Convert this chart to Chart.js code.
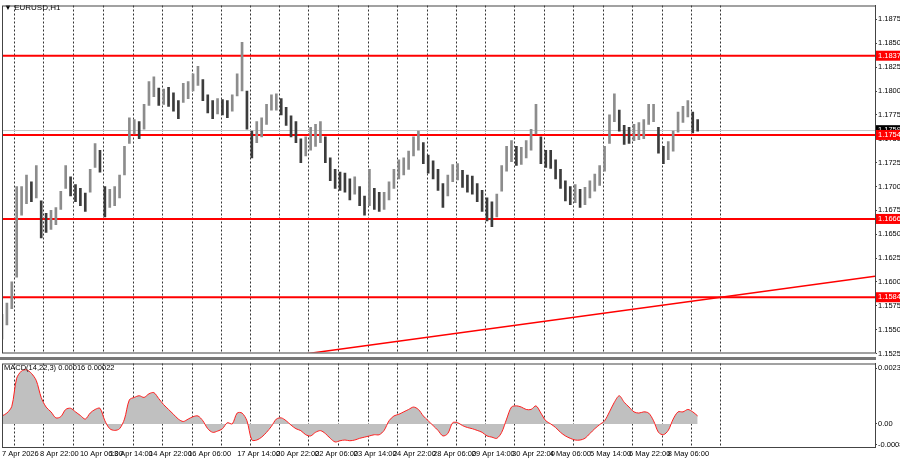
<!DOCTYPE html>
<html><head><meta charset="utf-8">
<script src="https://cdn.jsdelivr.net/npm/chart.js@4/dist/chart.umd.min.js"></script>
<style>
html,body{margin:0;padding:0;background:#fff;}
#w1{position:absolute;left:0;top:0;width:900px;height:358px;}
#w2{position:absolute;left:0;top:358px;width:900px;height:102px;}
#sep{position:absolute;left:0;top:357px;width:876px;height:3px;background:#777;}
</style></head><body>
<div id="w1"><canvas id="c1"></canvas></div>
<div id="sep"></div>
<div id="w2"><canvas id="c2"></canvas></div>
<script>
const highs=[1.1566,1.1578,1.1600,1.1700,1.1700,1.1712,1.1705,1.1722,1.1685,1.1672,1.1675,1.1678,1.1695,1.1722,1.1710,1.1702,1.1698,1.1693,1.1718,1.1745,1.1738,1.1700,1.1697,1.1700,1.1712,1.1742,1.1772,1.1770,1.1768,1.1786,1.1810,1.1815,1.1803,1.1802,1.1804,1.1798,1.1790,1.1808,1.1810,1.1818,1.1826,1.1812,1.1796,1.1790,1.1792,1.1791,1.1790,1.1796,1.1818,1.1851,1.1800,1.1758,1.1768,1.1772,1.1786,1.1796,1.1797,1.1792,1.1783,1.1774,1.1768,1.1750,1.1752,1.1762,1.1765,1.1768,1.1752,1.1730,1.1718,1.1715,1.1714,1.1708,1.1710,1.1700,1.1690,1.1718,1.1698,1.1694,1.1694,1.1705,1.1718,1.1728,1.1730,1.1737,1.1752,1.1758,1.1746,1.1733,1.1727,1.1718,1.1703,1.1712,1.1723,1.1724,1.1717,1.1712,1.1711,1.1703,1.1696,1.1688,1.1684,1.1692,1.1722,1.1742,1.1748,1.1742,1.1741,1.1748,1.1760,1.1786,1.1752,1.1738,1.1738,1.1728,1.1718,1.1706,1.1700,1.1702,1.1697,1.1699,1.1706,1.1713,1.1722,1.1742,1.1775,1.1797,1.1780,1.1764,1.1762,1.1765,1.1767,1.1770,1.1786,1.1786,1.1762,1.1742,1.1747,1.1758,1.1778,1.1784,1.1790,1.1778,1.1770];
const lows=[1.1540,1.1555,1.1572,1.1605,1.1670,1.1682,1.1684,1.1688,1.1646,1.1652,1.1655,1.1660,1.1676,1.1698,1.1690,1.1684,1.1680,1.1674,1.1694,1.1720,1.1715,1.1668,1.1678,1.1680,1.1688,1.1712,1.1745,1.1755,1.1750,1.1760,1.1785,1.1794,1.1785,1.1786,1.1784,1.1779,1.1771,1.1788,1.1792,1.1800,1.1806,1.1790,1.1777,1.1771,1.1776,1.1775,1.1772,1.1779,1.1795,1.1800,1.1760,1.1730,1.1746,1.1752,1.1765,1.1780,1.1780,1.1775,1.1764,1.1752,1.1746,1.1725,1.1732,1.1738,1.1742,1.1746,1.1725,1.1706,1.1698,1.1696,1.1694,1.1686,1.1692,1.1680,1.1670,1.1680,1.1676,1.1674,1.1676,1.1686,1.1698,1.1708,1.1712,1.1718,1.1732,1.1738,1.1724,1.1714,1.1708,1.1696,1.1678,1.1690,1.1705,1.1707,1.1699,1.1694,1.1692,1.1684,1.1674,1.1664,1.1658,1.1668,1.1695,1.1716,1.1726,1.1722,1.1723,1.1730,1.1738,1.1755,1.1724,1.1720,1.1719,1.1708,1.1698,1.1685,1.1681,1.1683,1.1678,1.1681,1.1688,1.1695,1.1701,1.1716,1.1745,1.1768,1.1758,1.1744,1.1745,1.1748,1.1749,1.1750,1.1765,1.1768,1.1735,1.1724,1.1728,1.1737,1.1757,1.1767,1.1773,1.1756,1.1758];
const macd=[0.00033,0.00045,0.00073,0.0019,0.0022,0.00225,0.0021,0.0018,0.0011,0.0007,0.0005,0.00025,0.0003,0.0006,0.00065,0.0005,0.00035,0.0002,0.00045,0.0006,0.00065,0.00013,-0.0002,-0.00027,-0.0002,0.0002,0.001,0.0011,0.00117,0.0011,0.00125,0.0013,0.00105,0.0008,0.0006,0.0004,0.0002,0.0001,0.0002,0.0003,0.00033,0.00013,-0.0002,-0.00035,-0.0003,-0.0002,0.00005,0.0,0.00045,0.00045,0.00013,-0.00067,-0.00067,-0.00055,-0.00035,-0.0001,0.0002,0.00025,0.00013,-0.00005,-0.0002,-0.00028,-0.00045,-0.0005,-0.00035,-0.00028,-0.0004,-0.0006,-0.00075,-0.0007,-0.00067,-0.0007,-0.00067,-0.0006,-0.00055,-0.0005,-0.00045,-0.00045,-0.00027,0.00013,0.00033,0.0004,0.0005,0.0006,0.0007,0.0006,0.00033,0.00013,-0.00007,-0.00027,-0.0005,-0.0004,0.00005,0.00005,-0.00007,-0.00015,-0.0002,-0.00027,-0.00035,-0.0005,-0.00055,-0.0006,-0.00035,0.0002,0.0007,0.00075,0.0007,0.0006,0.0006,0.00075,0.00045,0.00013,0.0,-0.00015,-0.00035,-0.0005,-0.0006,-0.00067,-0.00067,-0.0006,-0.0004,-0.0002,-0.00003,0.00013,0.0005,0.0009,0.00117,0.0009,0.0007,0.0005,0.00045,0.0005,0.00045,0.00013,-0.00035,-0.00045,-0.00027,0.0002,0.0005,0.0005,0.0006,0.0005,0.00033];
const priceTicks=[1.1525,1.1550,1.1575,1.1600,1.1625,1.1650,1.1675,1.1700,1.1725,1.1750,1.1775,1.1800,1.1825,1.1850,1.1875];
const levels=[1.1837,1.1754,1.1666,1.1584];
const currentPrice=1.1759;
const trendStart={x:55.3,y:1.1520}, trendEnd={x:178.2,y:1.1606};
const macdTicks=[0.00231,0,-0.00086];
const macdTickLabels=['0.00231','0.00','-0.00086'];
const timePos=[0,7.76,15.9,22.0,30,38,48,56,63.9,71.8,79.8,88,95.9,104.1,111.8,120,128,135.9];
const timeLabels=['7 Apr 2026','8 Apr 22:00','10 Apr 06:00','13 Apr 14:00','14 Apr 22:00','16 Apr 06:00','17 Apr 14:00','20 Apr 22:00','22 Apr 06:00','23 Apr 14:00','24 Apr 22:00','28 Apr 06:00','29 Apr 14:00','30 Apr 22:00','4 May 06:00','5 May 14:00','6 May 22:00','8 May 06:00'];
const dayGrid=[2.45,8.37,14.5,20.6,26.7,32.7,38.8,44.7,50.6,56.5,62.4,68.6,74.7,80.6,86.7,92.7,98.6,104.5,110.6,116.5,122.7,128.6,134.7,140.6,146.5];
const XMAX=178.2;
const FF='"Liberation Sans", Arial, sans-serif';
const FONT={family:FF,size:7.5};

const gridPlugin={id:'dgrid',beforeDatasetsDraw(ch){
  const x=ch.scales.x,a=ch.chartArea,c=ch.ctx;c.save();c.strokeStyle='#333';c.lineWidth=1;c.setLineDash([2,2]);
  dayGrid.forEach(v=>{const px=Math.round(x.getPixelForValue(v))+0.5;c.beginPath();c.moveTo(px,a.top);c.lineTo(px,a.bottom);c.stroke();});
  c.restore();}};
const frame={id:'frame',afterDraw(ch){const a=ch.chartArea,c=ch.ctx;c.save();c.strokeStyle='#444';c.lineWidth=1;
  c.strokeRect(a.left+0.5,a.top+0.5,a.right-a.left,a.bottom-a.top);c.restore();}};
const levelPlugin={id:'lv',beforeDatasetsDraw(ch){
  const y=ch.scales.y,a=ch.chartArea,c=ch.ctx;c.save();
  const cp=Math.round(y.getPixelForValue(currentPrice))+0.5;
  c.strokeStyle='#c8c8c8';c.lineWidth=1;c.beginPath();c.moveTo(a.left,cp);c.lineTo(a.right,cp);c.stroke();
  c.strokeStyle='#ff0000';c.lineWidth=2;
  levels.forEach(l=>{const p=y.getPixelForValue(l);c.beginPath();c.moveTo(a.left,p);c.lineTo(a.right,p);c.stroke();});
  c.restore();},
 afterDraw(ch){const y=ch.scales.y,a=ch.chartArea,c=ch.ctx;c.save();c.font='7.5px '+FF;c.textBaseline='middle';
  const cp=y.getPixelForValue(currentPrice);c.fillStyle='#000';c.fillRect(a.right+1,cp-5,24,10);c.fillStyle='#fff';c.fillText(currentPrice.toFixed(4),a.right+3,cp);
  levels.forEach(l=>{const p=y.getPixelForValue(l);c.fillStyle='#ff0000';c.fillRect(a.right+1,p-5,24,10);c.fillStyle='#fff';c.fillText(l.toFixed(4),a.right+3,p);});
  c.fillStyle='#000';c.font='8px '+FF;c.fillText('\u25BC EURUSD,H1',4,8);c.restore();}};

const bars=highs.map((h,i)=>({x:i,y:[lows[i],h]}));
const barCols=highs.map((h,i)=>i===0||(h+lows[i])>=(highs[i-1]+lows[i-1])?'#8c8c8c':'#3c3c3c');

new Chart(document.getElementById('c1'),{
  data:{datasets:[
    {type:'bar',data:bars,backgroundColor:barCols,barThickness:2,grouped:false},
    {type:'line',data:[trendStart,trendEnd],borderColor:'#ff0000',borderWidth:1.5,pointRadius:0}
  ]},
  options:{responsive:true,maintainAspectRatio:false,animation:false,
    layout:{padding:{left:2,top:2,bottom:0,right:0}},
    plugins:{legend:{display:false},tooltip:{enabled:false}},
    scales:{
      x:{type:'linear',min:0,max:XMAX,offset:false,display:false},
      y:{position:'right',min:1.15261,max:1.18896,
        afterBuildTicks(s){s.ticks=priceTicks.map(v=>({value:v}));},
        afterFit(s){s.width=25;},
        border:{color:'#444'},
        grid:{drawOnChartArea:false,drawTicks:true,tickLength:2,color:'#444'},
        ticks:{font:FONT,color:'#000',padding:1,callback:v=>v.toFixed(4)}}
    }},
  plugins:[gridPlugin,levelPlugin,frame]});

const macdPlugin={id:'ml',afterDraw(ch){const c=ch.ctx,x=ch.scales.x,a=ch.chartArea;c.save();c.font='7.5px '+FF;c.fillStyle='#000';c.textBaseline='middle';
  c.fillText('MACD(14,22,3) 0.00016 0.00022',4,10);
  c.textBaseline='top';c.textAlign='left';
  timePos.forEach((v,i)=>c.fillText(timeLabels[i],x.getPixelForValue(v),a.bottom+3));
  c.restore();}};

new Chart(document.getElementById('c2'),{
  data:{datasets:[
    {type:'line',data:macd.map((v,i)=>({x:i,y:v})),borderColor:'#ff2020',borderWidth:1,backgroundColor:'#c0c0c0',fill:'origin',pointRadius:0,tension:0.3}
  ]},
  options:{responsive:true,maintainAspectRatio:false,animation:false,
    layout:{padding:{left:2,top:4,bottom:0,right:0}},
    plugins:{legend:{display:false},tooltip:{enabled:false}},
    scales:{
      x:{type:'linear',min:0,max:XMAX,offset:false,
        afterBuildTicks(s){s.ticks=timePos.map(v=>({value:v}));},
        afterFit(s){s.height=13;},
        border:{display:false},
        grid:{display:false},
        ticks:{display:false}},
      y:{position:'right',min:-0.00096,max:0.00251,
        afterBuildTicks(s){s.ticks=macdTicks.map(v=>({value:v}));},
        afterFit(s){s.width=25;},
        border:{color:'#444'},
        grid:{drawOnChartArea:false,drawTicks:true,tickLength:2,color:'#444'},
        ticks:{font:FONT,color:'#000',padding:1,callback:(v,i)=>macdTickLabels[i]}}
    }},
  plugins:[gridPlugin,macdPlugin,frame]});
</script>
</body></html>
